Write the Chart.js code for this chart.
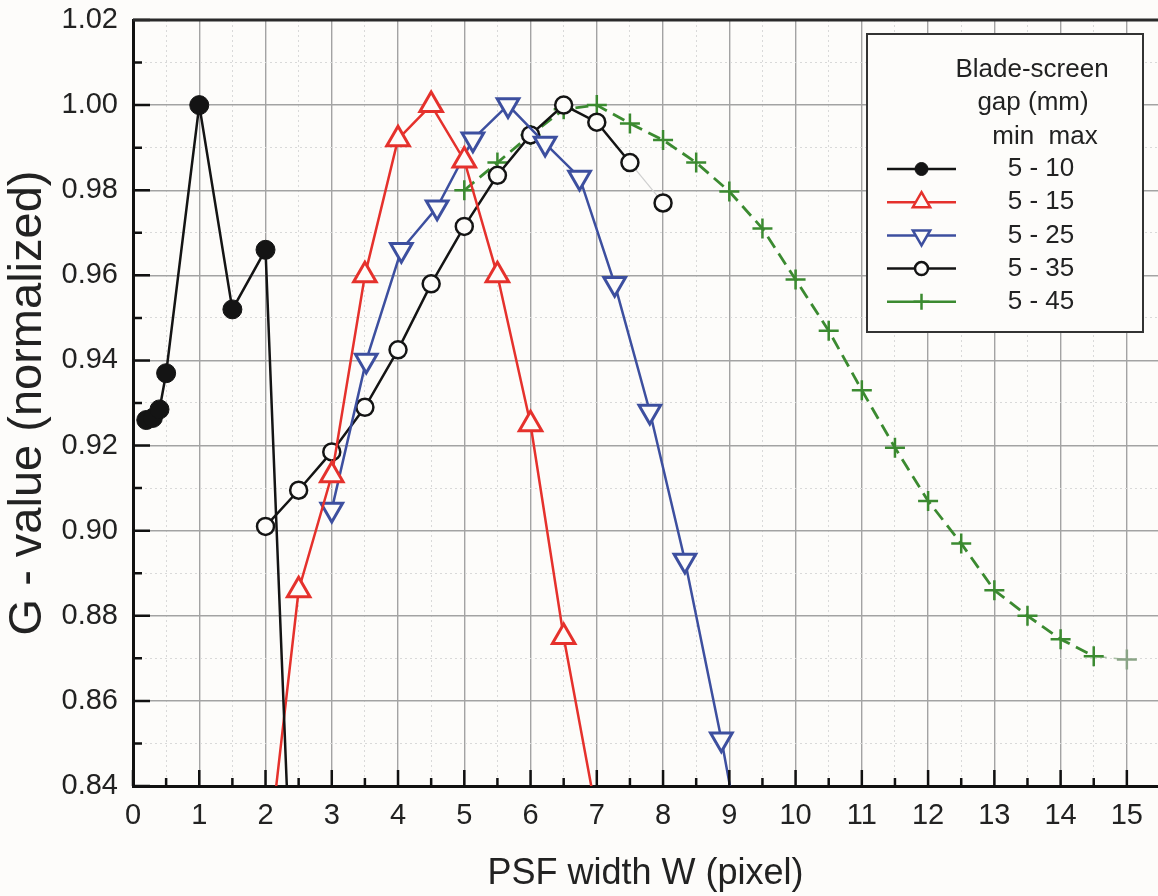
<!DOCTYPE html>
<html>
<head>
<meta charset="utf-8">
<script src="https://cdn.jsdelivr.net/npm/chart.js@4.4.1/dist/chart.umd.min.js"></script>
<style>
  html, body { margin: 0; padding: 0; background: #fdfcfa; overflow: hidden; }
  canvas { display: block; }
</style>
</head>
<body>
<canvas id="gChart" width="1158" height="896"></canvas>
<script>
// G-value (normalized) against PSF width, one curve per blade-screen gap
const seriesNames = ['5 - 10', '5 - 15', '5 - 25', '5 - 35', '5 - 45'];
const legendTitle = ['Blade-screen', 'gap (mm)', 'min  max'];

const gap10X = [0.2, 0.3, 0.4, 0.5, 1.0, 1.5, 2.0, 2.5];
const gap10Y = [0.926, 0.9265, 0.9285, 0.937, 1.000, 0.952, 0.966, 0.77];

const gap15X = [2.0, 2.5, 3.0, 3.5, 4.0, 4.5, 5.0, 5.5, 6.0, 6.5, 7.0];
const gap15Y = [0.818, 0.886, 0.913, 0.960, 0.992, 1.000, 0.987, 0.960, 0.925, 0.875, 0.833];

const gap25X = [3.0, 3.52, 4.05, 4.59, 5.13, 5.66, 6.22, 6.74, 7.27, 7.80, 8.33, 8.88, 9.41];
const gap25Y = [0.905, 0.940, 0.966, 0.976, 0.992, 1.000, 0.991, 0.983, 0.958, 0.928, 0.893, 0.851, 0.806];

const gap35X = [2.0, 2.5, 3.0, 3.5, 4.0, 4.5, 5.0, 5.5, 6.0, 6.5, 7.0, 7.5, 8.0];
const gap35Y = [0.901, 0.9095, 0.9185, 0.929, 0.9425, 0.958, 0.9715, 0.9835, 0.993, 1.000, 0.996, 0.9865, 0.977];

const gap45X = [5.0, 5.5, 6.0, 6.5, 7.0, 7.5, 8.0, 8.5, 9.0, 9.5, 10.0, 10.5, 11.0, 11.5, 12.0, 12.5, 13.0, 13.5, 14.0, 14.5, 15.0];
const gap45Y = [0.980, 0.9865, 0.993, 0.999, 1.000, 0.9957, 0.9918, 0.9865, 0.9797, 0.971, 0.959, 0.947, 0.933, 0.9195, 0.907, 0.897, 0.886, 0.880, 0.8745, 0.8705, 0.8697];

const BG = '#fdfcfa';
const BLACK = '#141414';
const RED = '#e5312c';
const BLUE = '#3d4f9f';
const GREEN = '#3b8a30';

const toPoints = (xs, ys) => xs.map((x, i) => ({ x: x, y: ys[i] }));

Chart.defaults.font.family = '"Liberation Sans", Arial, sans-serif';
Chart.defaults.color = '#222';

const datasets = [
    {
        label: seriesNames[0],
        data: toPoints(gap10X, gap10Y),
        borderColor: BLACK,
        backgroundColor: BLACK,
        borderWidth: 2.5,
        pointStyle: 'circle',
        pointRadius: 9.5,
        pointBorderWidth: 1
    },
    {
        label: seriesNames[1],
        data: toPoints(gap15X, gap15Y),
        borderColor: RED,
        backgroundColor: BG,
        borderWidth: 2.5,
        pointStyle: 'triangle',
        pointRadius: 13,
        pointBorderWidth: 3
    },
    {
        label: seriesNames[2],
        data: toPoints(gap25X, gap25Y),
        borderColor: BLUE,
        backgroundColor: BG,
        borderWidth: 2.5,
        pointStyle: 'triangle',
        pointRotation: 180,
        pointRadius: 12.5,
        pointBorderWidth: 3
    },
    {
        label: seriesNames[3],
        data: toPoints(gap35X, gap35Y),
        borderColor: BLACK,
        backgroundColor: BG,
        borderWidth: 2.5,
        pointStyle: 'circle',
        pointRadius: 8.5,
        pointBorderWidth: 2.5,
        segment: {
            borderColor: c => c.p1DataIndex === gap35X.length - 1 ? '#cfcfcf' : undefined,
            borderWidth: c => c.p1DataIndex === gap35X.length - 1 ? 1.2 : undefined
        }
    },
    {
        label: seriesNames[4],
        data: toPoints(gap45X, gap45Y),
        borderColor: GREEN,
        backgroundColor: GREEN,
        pointBorderColor: gap45X.map((_, i) => i === gap45X.length - 1 ? '#8aa486' : GREEN),
        borderWidth: 2.8,
        borderDash: [13, 7],
        pointStyle: 'cross',
        pointRadius: 10,
        pointBorderWidth: 2.5,
        segment: {
            borderColor: c => c.p1DataIndex === gap45X.length - 1 ? '#a9bfa5' : undefined,
            borderWidth: c => c.p1DataIndex === gap45X.length - 1 ? 1.5 : undefined
        }
    }
];

const isMajorX = v => Math.abs(v - Math.round(v)) < 1e-6;
const isMajorY = v => Math.round(v * 100) % 2 === 0;

// inward tick marks and the top frame line
const frame = {
    id: 'frame',
    afterDatasetsDraw(chart) {
        const { ctx, chartArea: a, scales: { x, y } } = chart;
        ctx.save();
        ctx.strokeStyle = '#111';
        ctx.lineWidth = 2.5;
        ctx.beginPath();
        x.ticks.forEach(t => {
            const px = x.getPixelForValue(t.value);
            ctx.moveTo(px, a.bottom);
            ctx.lineTo(px, a.bottom - (isMajorX(t.value) ? 16 : 8));
        });
        y.ticks.forEach(t => {
            const py = y.getPixelForValue(t.value);
            ctx.moveTo(a.left, py);
            ctx.lineTo(a.left + (isMajorY(t.value) ? 17 : 9), py);
        });
        ctx.stroke();
        ctx.strokeStyle = '#2a2a2a';
        ctx.lineWidth = 3;
        ctx.beginPath();
        ctx.moveTo(a.left, a.top);
        ctx.lineTo(a.right, a.top);
        ctx.stroke();
        ctx.restore();
    }
};

function drawMark(ctx, ds, cx, cy, r) {
    ctx.beginPath();
    if (ds.pointStyle === 'circle') {
        ctx.arc(cx, cy, r, 0, Math.PI * 2);
    } else if (ds.pointStyle === 'triangle') {
        let rad = (ds.pointRotation || 0) * Math.PI / 180;
        for (let k = 0; k < 3; k++) {
            const px = cx + Math.sin(rad) * r;
            const py = cy - Math.cos(rad) * r;
            if (k === 0) ctx.moveTo(px, py); else ctx.lineTo(px, py);
            rad += 2 * Math.PI / 3;
        }
        ctx.closePath();
    } else {
        ctx.moveTo(cx - r, cy); ctx.lineTo(cx + r, cy);
        ctx.moveTo(cx, cy - r); ctx.lineTo(cx, cy + r);
    }
    if (ds.pointStyle !== 'cross') {
        ctx.fillStyle = ds.backgroundColor;
        ctx.fill();
    }
    ctx.stroke();
}

const legendBox = {
    id: 'legendBox',
    afterDraw(chart) {
        const ctx = chart.ctx;
        ctx.save();
        ctx.fillStyle = BG;
        ctx.fillRect(867, 34, 276, 298);
        ctx.strokeStyle = '#333';
        ctx.lineWidth = 2;
        ctx.strokeRect(867, 34, 276, 298);

        ctx.fillStyle = '#222';
        ctx.font = '26px "Liberation Sans", Arial, sans-serif';
        ctx.textAlign = 'center';
        ctx.textBaseline = 'middle';
        ctx.fillText(legendTitle[0], 1032, 70);
        ctx.fillText(legendTitle[1], 1033, 103);
        ctx.fillText(legendTitle[2], 1045, 137);

        const markR = [6.5, 10, 10, 6.5, 8];
        chart.data.datasets.forEach((ds, i) => {
            const ly = 169 + i * 33.2;
            ctx.strokeStyle = ds.borderColor;
            ctx.lineWidth = 2.5;
            ctx.setLineDash([]);
            ctx.beginPath();
            ctx.moveTo(887, ly);
            ctx.lineTo(956, ly);
            ctx.stroke();
            ctx.lineWidth = ds.pointStyle === 'circle' && i === 0 ? 1 : 2.5;
            drawMark(ctx, ds, 921.5, ly, markR[i]);
            ctx.fillStyle = '#222';
            ctx.fillText(ds.label, 1041, ly);
        });
        ctx.restore();
    }
};

new Chart(document.getElementById('gChart'), {
    type: 'line',
    data: { datasets: datasets },
    plugins: [frame, legendBox],
    options: {
        responsive: false,
        animation: false,
        layout: { autoPadding: false, padding: { top: 20, right: 0, bottom: 0, left: 0 } },
        plugins: {
            legend: { display: false },
            tooltip: { enabled: false }
        },
        elements: { line: { tension: 0 } },
        scales: {
            x: {
                type: 'linear',
                min: 0,
                max: 15.47,
                afterFit: s => { s.height = 110; s.paddingLeft = 0; s.paddingRight = 0; },
                border: {
                    color: '#111',
                    width: 3,
                    dash: c => (c.tick && !isMajorX(c.tick.value)) ? [2, 3] : []
                },
                grid: {
                    drawTicks: false,
                    color: c => (c.tick && isMajorX(c.tick.value)) ? '#a3a3a3' : '#d9d9d9',
                    lineWidth: c => (c.tick && isMajorX(c.tick.value)) ? 1.4 : 1
                },
                ticks: {
                    stepSize: 0.5,
                    includeBounds: false,
                    autoSkip: false,
                    maxRotation: 0,
                    padding: 13,
                    font: { size: 29 },
                    color: '#222',
                    callback: v => isMajorX(v) ? String(Math.round(v)) : ''
                },
                title: {
                    display: true,
                    text: 'PSF width W (pixel)',
                    font: { size: 36 },
                    color: '#222',
                    padding: { top: 0, bottom: 0 }
                }
            },
            y: {
                min: 0.84,
                max: 1.02,
                afterFit: s => { s.width = 133; s.paddingTop = 0; s.paddingBottom = 0; },
                border: {
                    color: '#111',
                    width: 3,
                    dash: c => (c.tick && !isMajorY(c.tick.value)) ? [2, 3] : []
                },
                grid: {
                    drawTicks: false,
                    color: c => (c.tick && isMajorY(c.tick.value)) ? '#a3a3a3' : '#d9d9d9',
                    lineWidth: c => (c.tick && isMajorY(c.tick.value)) ? 1.4 : 1
                },
                ticks: {
                    stepSize: 0.01,
                    autoSkip: false,
                    padding: 15,
                    font: { size: 29 },
                    color: '#222',
                    callback: v => isMajorY(v) ? (Math.round(v * 100) / 100).toFixed(2) : ''
                },
                title: {
                    display: true,
                    text: 'G - value (normalized)',
                    font: { size: 47 },
                    color: '#222',
                    padding: { top: 0, bottom: 0 }
                }
            }
        }
    }
});
</script>
</body>
</html>
